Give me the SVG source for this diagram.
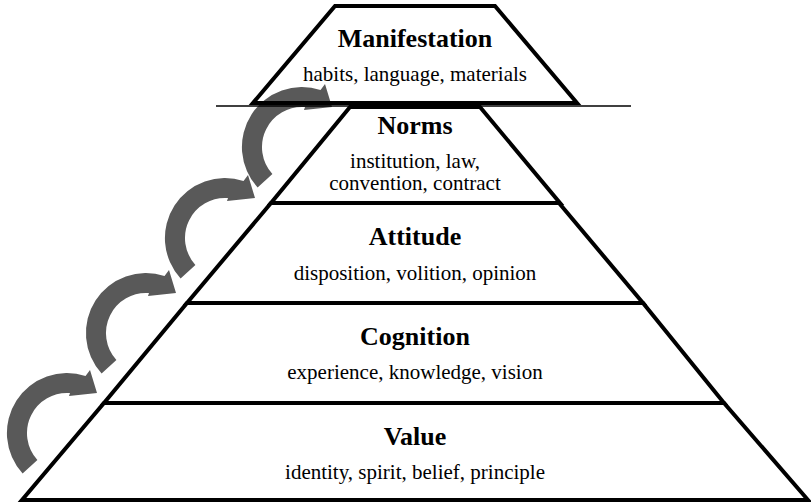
<svg xmlns="http://www.w3.org/2000/svg" width="811" height="504" viewBox="0 0 811 504">
<style>
.layer{fill:none;stroke:#000;stroke-width:4;stroke-linejoin:miter}
.t{font-family:"Liberation Serif","Times New Roman",serif;font-weight:bold;font-size:26px;text-anchor:middle;fill:#000}
.s{font-family:"Liberation Serif","Times New Roman",serif;font-size:21px;text-anchor:middle;fill:#000}
.arr{fill:#595959}
</style>
<defs>
<path id="carrow" class="arr" d="M -44.4 40.4 A 60 60 0 0 1 18.5 -57.1 L 23 -63 L 30 -40 L 2 -37 L 3 -39.9 A 40 40 0 0 0 -29.6 26.9 Z"/>
</defs>
<rect width="811" height="504" fill="#fff"/>
<g id="connectors">
<use href="#carrow" transform="translate(67,433)"/>
<use href="#carrow" transform="translate(146,333)"/>
<use href="#carrow" transform="translate(225,238)"/>
<use href="#carrow" transform="translate(302,147)"/>
</g>
<line x1="216" y1="106" x2="631" y2="106" stroke="#000" stroke-width="1.5"/>
<g id="manifestation">
<polygon class="layer" points="335,6 495,6 577,103 253,103"/>
<text class="t" x="415" y="47">Manifestation</text>
<text class="s" x="415" y="81">habits, language, materials</text>
</g>
<g id="norms">
<polygon class="layer" points="350,107 480,107 560,203 271,203"/>
<text class="t" x="415" y="134">Norms</text>
<text class="s" x="415" y="168" font-size="20">institution, law,</text>
<text class="s" x="415" y="190" font-size="20">convention, contract</text>
</g>
<g id="attitude">
<polygon class="layer" points="271,203 559,203 643,303 187,303"/>
<text class="t" x="415" y="245">Attitude</text>
<text class="s" x="415" y="280">disposition, volition, opinion</text>
</g>
<g id="cognition">
<polygon class="layer" points="187,303 643,303 724,403 104,403"/>
<text class="t" x="415" y="345">Cognition</text>
<text class="s" x="415" y="379">experience, knowledge, vision</text>
</g>
<g id="value">
<polygon class="layer" points="104,403 724,403 808,500 22,500"/>
<text class="t" x="415" y="445">Value</text>
<text class="s" x="415" y="479">identity, spirit, belief, principle</text>
</g>
</svg>
